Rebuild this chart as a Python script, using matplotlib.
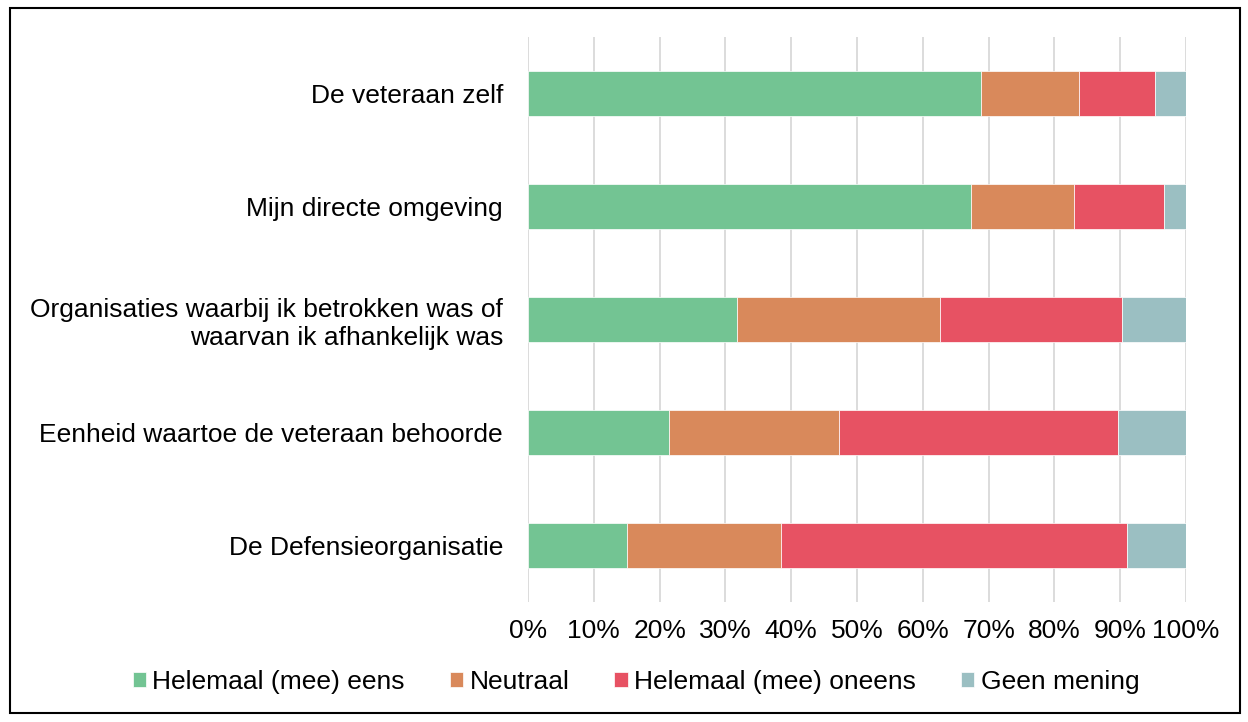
import matplotlib
matplotlib.use("Agg")
import matplotlib.pyplot as plt
from matplotlib.patches import Rectangle
import numpy as np

plt.rcParams['font.family'] = ['Liberation Sans', 'DejaVu Sans']

categories = ["De veteraan zelf",
              "Mijn directe omgeving",
              "Organisaties waarbij ik betrokken was of\nwaarvan ik afhankelijk was",
              "Eenheid waartoe de veteraan behoorde",
              "De Defensieorganisatie"]
series_names = ["Helemaal (mee) eens", "Neutraal", "Helemaal (mee) oneens", "Geen mening"]
eens = [68.9, 67.4, 31.8, 21.5, 15.1]
neutraal = [14.9, 15.6, 30.8, 25.7, 23.4]
oneens = [11.5, 13.6, 27.6, 42.4, 52.5]
geen = [4.7, 3.4, 9.8, 10.4, 9.0]
colors = ["#73C493", "#D9895B", "#E75263", "#9BBFC2"]
xticks = [0, 10, 20, 30, 40, 50, 60, 70, 80, 90, 100]

fig = plt.figure(figsize=(12.48, 7.22), dpi=100)
ax = fig.add_axes([528/1248, 1 - 602/722, 658/1248, 565/722])

y = np.arange(len(categories))
left = np.zeros(len(categories))
for vals, name, c in zip([eens, neutraal, oneens, geen], series_names, colors):
    ax.barh(y, vals, left=left, height=0.4, color=c, label=name,
            edgecolor='white', linewidth=0.5)
    left += np.array(vals)

ax.set_xlim(0, 100)
ax.set_ylim(len(categories) - 0.5, -0.5)
ax.set_yticks(y)
ax.set_yticklabels(categories, fontsize=19, color='#000000')
ax.set_xticks(xticks)
ax.set_xticklabels([f"{t}%" for t in xticks], fontsize=19)
ax.tick_params(axis='both', length=0)
ax.tick_params(axis='y', pad=18)
ax.tick_params(axis='x', pad=12)
ax.xaxis.grid(True, color='#D9D9D9', linewidth=1.3)
ax.set_axisbelow(True)
for s in ax.spines.values():
    s.set_visible(False)

handles, labels = ax.get_legend_handles_labels()
fig.legend(handles, labels, loc='center', bbox_to_anchor=(636/1248, 1 - 682/722),
           ncol=4, frameon=False, fontsize=19, handlelength=0.5, handleheight=0.5,
           handletextpad=0.25, columnspacing=1.7, borderpad=0)

fig.patches.append(Rectangle((10/1248, 1 - 713/722), 1230/1248, 705/722,
                             transform=fig.transFigure, fill=False,
                             edgecolor='black', linewidth=1.5))

fig.savefig("out.png", dpi=100)
